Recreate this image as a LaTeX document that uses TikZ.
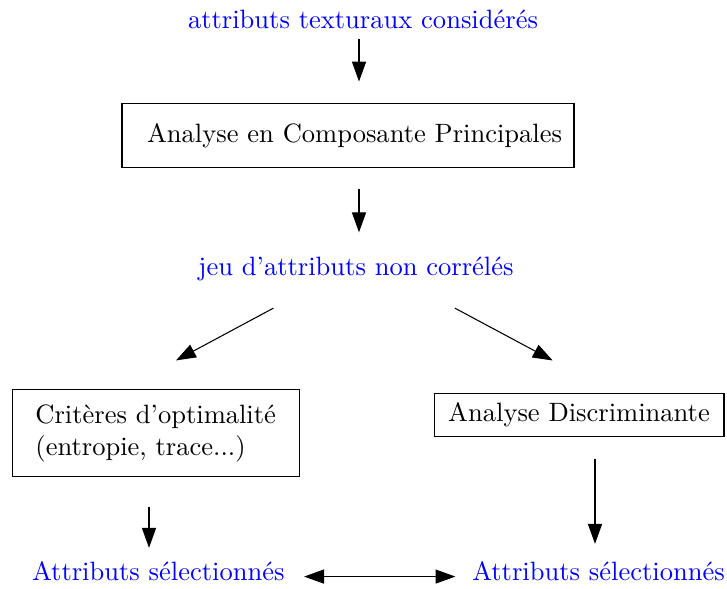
\documentclass[tikz,border=0pt]{standalone}
\usepackage{xcolor}
\usepackage{tikz}
\usetikzlibrary{arrows.meta}

\begin{document}
\begin{tikzpicture}[x=0.377pt,y=-0.377pt,
      box_node/.style={
         draw=black,
         inner sep=0pt,
         line width=0.4pt},
      blue_text/.style={
         text=blue,
         anchor=base},
      arrow_black/.style={
        -{Triangle[length=7.5pt,width=5.3pt]},
        line width=0.4pt}
]
      \useasboundingbox (0,0) rectangle (727,588);

      %input and ACP
      \node[blue_text] (attr) at (363,28) {attributs texturaux considérés};
      \node[box_node,minimum width=170.4pt,minimum height=24.1pt,
            text width=161.4pt,align=right] (acp) at (348,135.3)
            {Analyse en Composante Principales};
      \node[blue_text] (jeu) at (356,275) {jeu d'attributs non corrélés};

      %two branches
      \node[box_node,minimum width=108.2pt,minimum height=32.7pt,align=left]
            (crit) at (155.7,433.3) {Critères d'optimalité\\(entropie, trace...)};
      \node[box_node,minimum width=109.3pt,minimum height=16.5pt]
            (ad) at (579,414.9) {Analyse Discriminante};

      %results
      \node[blue_text] (sel1) at (158.3,580) {Attributs sélectionnés};
      \node[blue_text] (sel2) at (598.5,580) {Attributs sélectionnés};

      \draw[arrow_black] ([shift={(-4,1)}]attr.south) -- ([shift={(11,-21.3)}]acp.north);
      \draw[arrow_black] ([shift={(11,21.3)}]acp.south) -- ([shift={(3,-14.8)}]jeu.north);
      \draw[arrow_black] ([shift={(84.4,18.3)}]jeu.south west) -- ([shift={(20.3,-29)}]crit.north);
      \draw[arrow_black] ([shift={(-68.1,18.3)}]jeu.south east) -- ([shift={(-26.3,-32)}]ad.north);
      \draw[arrow_black] ([shift={(-6.7,29.3)}]crit.south) -- ([shift={(-9.3,-3.8)}]sel1.north);
      \draw[arrow_black] ([shift={(16,21.3)}]ad.south) -- ([shift={(-3.5,-7.8)}]sel2.north);
      \draw[arrow_black,{Triangle[length=7.5pt,width=5.3pt]}-{Triangle[length=7.5pt,width=5.3pt]}]
            ([shift={(10.2,5.9)}]sel1.east) -- ([shift={(-7.5,5.9)}]sel2.west);

\end{tikzpicture}
\end{document}
